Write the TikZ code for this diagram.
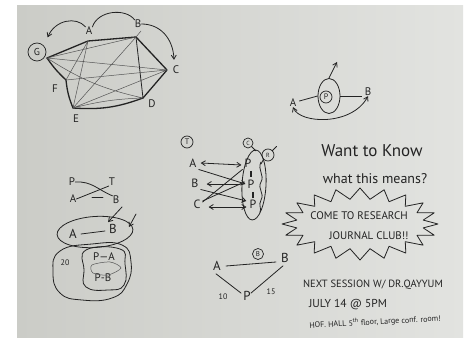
\documentclass[tikz,border=0pt]{standalone}
\usepackage{fontspec}
\setmainfont{PT Sans}
\usetikzlibrary{arrows.meta,calc,shapes.geometric}
\definecolor{ink}{RGB}{35,35,35}
\definecolor{inkl}{RGB}{85,85,85}
\definecolor{boardA}{RGB}{203,204,199}
\definecolor{boardB}{RGB}{226,227,224}
\begin{document}
\begin{tikzpicture}[x=1pt,y=-1pt,
  pen/.style={draw=ink, line width=0.8pt, line cap=round, line join=round},
  heavy/.style={draw=ink, line width=1.3pt, line cap=round, line join=round},
  fine/.style={draw=inkl, line width=0.5pt, line cap=round},
  lab/.style={font=\fontsize{11}{11}\selectfont, text=ink, inner sep=0pt},
  circ/.style={circle, draw=ink, line width=0.7pt, inner sep=1pt, font=\fontsize{8}{8}\selectfont, text=ink},
  arr/.style={-{Straight Barb[length=4pt,width=5pt]}},
  darr/.style={{Straight Barb[length=4pt,width=5pt]}-{Straight Barb[length=4pt,width=5pt]}},
  txt/.style={text=ink, inner sep=0pt}]
\useasboundingbox (0,0) rectangle (469,339);
\fill[white] (0,0) rectangle (469,339);
\shade[left color=boardA, right color=boardB] (17,6) rectangle (463,338);

% ---------- complete graph (top left) ----------
\coordinate (G) at (47,58);
\coordinate (A) at (88,41);
\coordinate (B) at (136,37);
\coordinate (C) at (167,70);
\coordinate (D) at (143,98);
\coordinate (E) at (73,108);
\coordinate (F) at (66,80);
\node[circ, minimum size=18pt, font=\fontsize{10}{10}\selectfont] (gl) at (37,52) {G};
\node[lab] (al) at (89,31) {A};
\node[lab] (bl) at (138,24) {B};
\node[lab] (cl) at (176,70) {C};
\node[lab] (dl) at (152,104) {D};
\node[lab] (el) at (76,119) {E};
\node[lab] (fl) at (55,89) {F};
\draw[heavy] (G) -- (A) -- (B) -- (C) -- (D);
\draw[heavy] (D) to[bend left=12] (E);
\draw[heavy] (E) to[bend left=8] (F) to[bend left=6] (G);
\draw[pen] (B) -- (D);
\draw[fine] (G) -- (B) (G) -- (C) (G) to[bend right=10] (D) (A) -- (F) (A) -- (E)
  (B) -- (E) (F) -- (C) (E) -- (C) (E) to[bend left=6] (D) (B) -- ++(5,-6);
\draw[pen, arr] (al.north west) .. controls (76,16) and (55,20) .. ($(gl.north east)+(4,-8)$);
\draw[pen] (al.north east) .. controls (98,10) and (126,8) .. (bl.north west);
\draw[pen, arr] (bl.east) .. controls (160,24) and (173,38) .. ($(cl.north)+(-2,-6)$);

% ---------- P between A and B (top right) ----------
\node[circ, minimum size=12pt] (pc) at (326,97) {P};
\node[draw=ink, line width=0.8pt, ellipse, minimum width=22pt, minimum height=35pt, inner sep=0pt] (pe) at (329,96) {};
\node[lab] (ra) at (293,103) {A};
\node[lab] (rb) at (368,92) {B};
\coordinate (pt) at (337,62);
\draw[pen, arr] (pe.north) -- (pt);
\draw[pen] (ra.east) ++(3,-2) -- (pe.west);
\draw[pen] (pe.east) -- ($(rb.west)+(-3,4)$);
\draw[pen, darr] (ra.south) .. controls (300,124) and (352,126) .. (rb.south);

% ---------- P T / A B (left middle) ----------
\node[lab] (lp) at (72,182) {P};
\node[lab] (lt) at (112,182) {T};
\node[lab] (la) at (73,199) {A};
\node[lab] (lb) at (116,200) {B};
\draw[pen] (lp.east) .. controls (92,181) and (98,190) .. (lb.north west);
\draw[pen] (la.east) -- (lt.south west);
\draw[pen] (92,197) -- (103,197);

% A -- B ellipse
\node[lab, font=\fontsize{13}{13}\selectfont] (ea) at (73,234) {A};
\node[lab, font=\fontsize{13}{13}\selectfont] (eb) at (113,229) {B};
\draw[pen] ($(ea.east)+(4,0)$) -- ($(eb.west)+(-4,2)$);
\node[draw=ink, line width=0.8pt, ellipse, minimum width=76pt, minimum height=31pt, rotate=4] (eab) at (95,232) {};
\coordinate (a1) at (122,207);
\coordinate (a2) at (136,214);
\draw[pen, arr] (a1) -- ($(eb.north)+(-5,-2)$);
\draw[pen, arr] (a2) -- ($(eb.east)+(12,-2)$);

% blob with 20, P-A, P-B
\node[lab, font=\fontsize{8}{8}\selectfont] (n20) at (65,263) {20};
\node[lab] (pa) at (104,257) {P—A};
\node[lab] (pb) at (103,278) {P-B};
\draw[pen] plot[smooth cycle, tension=0.8] coordinates {(60,251) (92,244) (122,245) (131,262) (127,284) (112,298) (82,300) (60,293) (53,272)};
\draw[pen] plot[smooth cycle, tension=0.8] coordinates {(86,250) (120,249) (125,264) (124,285) (108,290) (86,287) (84,270)};
\draw[fine] plot[smooth cycle] coordinates {(92,265) (110,262) (121,268) (108,275) (93,273)};

% ---------- T / A B C  -> P P P (middle) ----------
\node[circ, minimum size=12pt] (mt) at (187,142) {T};
\node[lab, font=\fontsize{12}{12}\selectfont] (ma) at (193,163) {A};
\node[lab, font=\fontsize{12}{12}\selectfont] (mb) at (195,183) {B};
\node[lab, font=\fontsize{12}{12}\selectfont] (mc) at (197,204) {C};
\node[lab, font=\fontsize{12}{12}\selectfont] (p1) at (248,163) {P};
\node[lab, font=\fontsize{12}{12}\selectfont] (p2) at (251,184) {P};
\node[lab, font=\fontsize{12}{12}\selectfont] (p3) at (253,204) {P};
\node[draw=ink, line width=0.8pt, ellipse, minimum width=24pt, minimum height=70pt, inner sep=0pt, rotate=-3] (pell) at (254,185) {};
\node[circ, minimum size=10pt, font=\fontsize{6}{6}\selectfont] (mcc) at (248,143) {C};
\node[circ, minimum size=12pt, font=\fontsize{6}{6}\selectfont] (mr) at (268,155) {R};
\draw[pen] (mcc.south east) -- ++(4,4);
\draw[pen] (mr.south west) -- (261,164);
\draw[pen] (mr.north east) -- ++(4,-4);
\draw[pen] (261,162) .. controls (257,170) and (265,175) .. (261,182) .. controls (257,189) and (265,193) .. (261,200) .. controls (258,205) and (262,209) .. (260,212);
\draw[ink, line width=1.4pt] (251,171) -- (251,177) (253,192) -- (253,198);
\draw[pen, darr] (ma.east) ++(4,0) -- ($(p1.west)+(-3,2)$);
\draw[pen, arr] (ma.south east) ++(2,2) -- ($(p2.west)+(-2,0)$);
\draw[pen, arr] ($(p2.west)+(-8,0)$) -- ($(mb.east)+(8,1)$);
\draw[pen, arr] (mb.south east) ++(2,2) -- ($(p3.west)+(-3,-3)$);
\draw[pen] (mc.east) ++(2,-2) -- ($(p1.south west)+(-2,2)$);
\draw[pen] (mc.east) ++(2,-3) -- ($(p2.west)+(-3,-2)$);
\draw[pen, darr] (mc.east) ++(8,3) -- ($(p3.west)+(-3,3)$);

% ---------- triangle A B P (bottom middle) ----------
\node[lab, font=\fontsize{13}{13}\selectfont] (ta) at (217,266) {A};
\node[lab, font=\fontsize{13}{13}\selectfont] (tb) at (285,258) {B};
\node[lab, font=\fontsize{13}{13}\selectfont] (tp) at (247,296) {P};
\node[circ, minimum size=11pt, font=\fontsize{7}{7}\selectfont] (tc) at (258,254) {B};
\draw[pen] ($(ta.east)+(5,0)$) -- ($(tb.west)+(-5,4)$);
\draw[pen] (ta.south) ++(-1,3) -- ($(tp.north west)+(-2,2)$);
\draw[pen] (tb.south) ++(-2,3) -- ($(tp.north east)+(0,2)$);
\node[lab, font=\fontsize{8}{8}\selectfont] (t10) at (223,297) {10};
\node[lab, font=\fontsize{8}{8}\selectfont] (t15) at (271,292) {15};

% ---------- text and starburst (right) ----------
\node[txt, font=\fontsize{17}{17}\selectfont] (want) at (372,151) {Want to Know};
\node[txt, font=\fontsize{14}{14}\selectfont] (what) at (375,179) {what this means?};
\draw[pen] (438,224) \foreach \i in {1,...,39} { -- ({360+(64+14*mod(\i+1,2))*cos(\i*9)}, {224+(25+11*mod(\i+1,2))*sin(\i*9)}) } -- cycle;
\node[txt, font=\fontsize{11}{11}\selectfont] (come) at (359,216) {COME TO RESEARCH};
\node[txt, font=\fontsize{11}{11}\selectfont] (jour) at (369,236) {JOURNAL CLUB!!};
\node[txt, font=\fontsize{10.5}{10.5}\selectfont] (next) at (373,285) {NEXT SESSION W/ DR.QAYYUM};
\node[txt, font=\fontsize{11.5}{11.5}\selectfont] (july) at (348,305) {JULY 14 @ 5PM};
\node[txt, font=\fontsize{8}{8}\selectfont, rotate=3] (hof) at (375,322) {HOF. HALL 5\textsuperscript{th} floor, Large conf. room!};
\end{tikzpicture}
\end{document}
